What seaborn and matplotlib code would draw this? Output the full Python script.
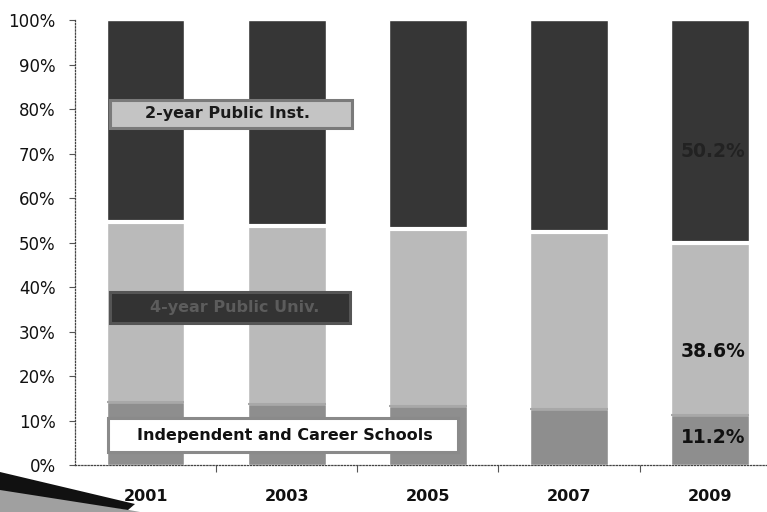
import numpy as np
import pandas as pd
import matplotlib
matplotlib.use("Agg")
import matplotlib.pyplot as plt
from matplotlib.patches import Rectangle, Polygon
import seaborn as sns

# Enrollment share by sector (percent of total)
years = ["2001", "2003", "2005", "2007", "2009"]
independent = [14.2, 13.7, 13.3, 12.6, 11.2]
four_year = [40.4, 40.1, 39.7, 39.8, 38.6]
two_year = [45.4, 46.2, 47.0, 47.6, 50.2]

sector_names = ["Independent and Career Schools", "4-year Public Univ.", "2-year Public Inst."]
value_labels = ["11.2%", "38.6%", "50.2%"]

df = pd.DataFrame({"year": years, "indep": independent, "four": four_year, "two": two_year})
df["mid"] = df["indep"] + df["four"]
df["total"] = df["mid"] + df["two"]

sns.set_style("white")
plt.rcParams["font.family"] = ["DejaVu Sans"]

DARK = "#363636"
LIGHT = "#bababa"
MEDIUM = "#8e8e8e"

fig = plt.figure(figsize=(7.67, 5.12), dpi=100)
ax = fig.add_axes([0.0978, 0.0918, 0.920, 0.869])

bw = 0.55
sns.barplot(data=df, x="year", y="total", color=DARK, width=bw, saturation=1, ax=ax, zorder=2)
sns.barplot(data=df, x="year", y="mid", color=LIGHT, width=bw, saturation=1, ax=ax, zorder=3)
sns.barplot(data=df, x="year", y="indep", color=MEDIUM, width=bw, saturation=1, ax=ax, zorder=4)

# bevel highlight on the top edge of the light segment
xs = np.arange(len(years))
ax.hlines(df["mid"], xs - bw / 2, xs + bw / 2, color="white", lw=3, zorder=5)
ax.hlines(df["indep"], xs - bw / 2, xs + bw / 2, color="#a8a8a8", lw=1.5, zorder=5)

ax.set_xlim(-0.5, 4.5)
ax.set_ylim(0, 100)
ax.set_xlabel("")
ax.set_ylabel("")

ax.set_yticks(np.arange(0, 101, 10))
ax.set_yticklabels([f"{v}%" for v in range(0, 101, 10)], fontsize=12, color="#111111")
ax.tick_params(axis="y", direction="out", length=4, width=0.8, color="#555555", pad=10, left=True)

ax.set_xticks(xs)
ax.set_xticklabels(years, fontsize=11.5, fontweight="bold", color="#111111")
ax.set_xticks(xs[:-1] + 0.5, minor=True)
ax.tick_params(axis="x", which="major", length=0, pad=17)
ax.tick_params(axis="x", which="minor", direction="out", length=5, width=0.8, color="#555555", bottom=True)

for side in ["top", "right"]:
    ax.spines[side].set_visible(False)
for side in ["left", "bottom"]:
    ax.spines[side].set_visible(True)
    ax.spines[side].set_linestyle((0, (1, 1.5)))
    ax.spines[side].set_color("#444444")
    ax.spines[side].set_linewidth(0.9)

# sector name boxes
boxes = [
    # (x0, x1, y0, y1, face, edge, text x, text y, text colour)
    (-0.266, 2.212, 2.9, 10.6, "white", "#8a8a8a", 0.987, 6.7, "#111111"),
    (-0.252, 1.448, 31.9, 38.9, "#333333", "#555555", 0.633, 35.4, "#5c5c5c"),
    (-0.252, 1.462, 75.7, 82.0, "#c4c4c4", "#7a7a7a", 0.584, 78.9, "#1a1a1a"),
]
for name, (x0, x1, y0, y1, face, edge, tx, ty, tc) in zip(sector_names, boxes):
    ax.add_patch(Rectangle((x0, y0), x1 - x0, y1 - y0, facecolor=face, edgecolor=edge,
                           lw=2.2, zorder=8))
    ax.text(tx, ty, name, ha="center", va="center", fontsize=11.5, fontweight="bold",
            color=tc, zorder=9)

# value labels on the latest bar
last = len(years) - 1
bottoms = [0, independent[last], independent[last] + four_year[last]]
values = [independent[last], four_year[last], two_year[last]]
fracs = [0.56, 0.37, 0.41]
label_colors = ["#111111", "#111111", "#222222"]
for b, v, f, lab, c in zip(bottoms, values, fracs, value_labels, label_colors):
    ax.text(last + 0.02, b + v * f, lab, ha="center", va="center", fontsize=13.5,
            fontweight="bold", color=c, zorder=9)

# corner swoosh
W, H = 767, 512
def fc(pts):
    return [(x / W, 1 - y / H) for x, y in pts]
fig.add_artist(Polygon(fc([(0, 486), (140, 512), (0, 512)]), closed=True,
                       facecolor="#a0a0a0", edgecolor="none", transform=fig.transFigure))
fig.add_artist(Polygon(fc([(0, 472), (135, 504), (128, 510), (0, 490)]), closed=True,
                       facecolor="#111111", edgecolor="none", transform=fig.transFigure))

fig.savefig("out.png", dpi=100)
